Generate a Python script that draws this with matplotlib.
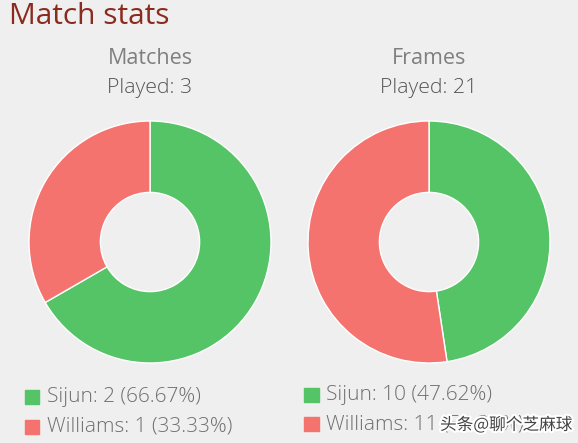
import matplotlib.pyplot as plt
import matplotlib.patheffects as pe

# data
players = ["Sijun", "Williams"]
matches = [2, 1]
frames = [10, 11]
colors = ["#55c466", "#f4736e"]
bg = "#efefef"

fig = plt.figure(figsize=(5.78, 4.43), dpi=100, facecolor=bg)
W, H = 578, 443


def fx(px):
    return px / W


def fy(py):
    return 1 - py / H


def donut(cx, cy, r, values, title):
    ax = fig.add_axes([fx(cx - r), fy(cy + r), 2 * r / W, 2 * r / H])
    ax.set_facecolor(bg)
    ax.pie(values, colors=colors, startangle=90, counterclock=False,
           radius=1.0,
           wedgeprops=dict(width=0.59, edgecolor="white", linewidth=1.0))
    ax.set_xlim(-1, 1)
    ax.set_ylim(-1, 1)
    ax.set_aspect("auto")
    ax.axis("off")

    fig.text(fx(cx), fy(58), title, ha="center", va="center",
             fontsize=15.5, color="#7f7f7f", family="Open Sans")
    fig.text(fx(cx), fy(88), f"Played: {sum(values)}", ha="center",
             va="center", fontsize=15.3, color="#555555",
             family="Open Sans", fontweight="light")


def legend(x, y0, dy, values):
    total = sum(values)
    for i, (name, v) in enumerate(zip(players, values)):
        y = y0 + i * dy
        fig.patches.append(plt.Rectangle((fx(x), fy(y + 7)), 14.5 / W,
                                         14.5 / H, transform=fig.transFigure,
                                         color=colors[i]))
        fig.text(fx(x + 22), fy(y), f"{name}: {v} ({v / total * 100:.2f}%)",
                 ha="left", va="center", fontsize=15, color="#6f6f6f",
                 family="Open Sans", fontweight="light")


fig.text(fx(9), fy(16), "Match stats", ha="left", va="center",
         fontsize=21.5, color="#8b2a1e", family="Open Sans")

donut(150, 242, 121, matches, "Matches")
donut(429, 242, 121, frames, "Frames")

legend(25, 397, 30, matches)
legend(304, 395, 29, frames)

# watermark (sits on top of the legend text, as in the source)
fig.text(fx(440), fy(425), "头条@聊个芝麻球", ha="left", va="center",
         fontsize=12, color="#444444",
         family=["Noto Sans CJK SC", "DejaVu Sans"],
         path_effects=[pe.withStroke(linewidth=3, foreground="white")])

fig.savefig("out.png", dpi=100, facecolor=bg)
